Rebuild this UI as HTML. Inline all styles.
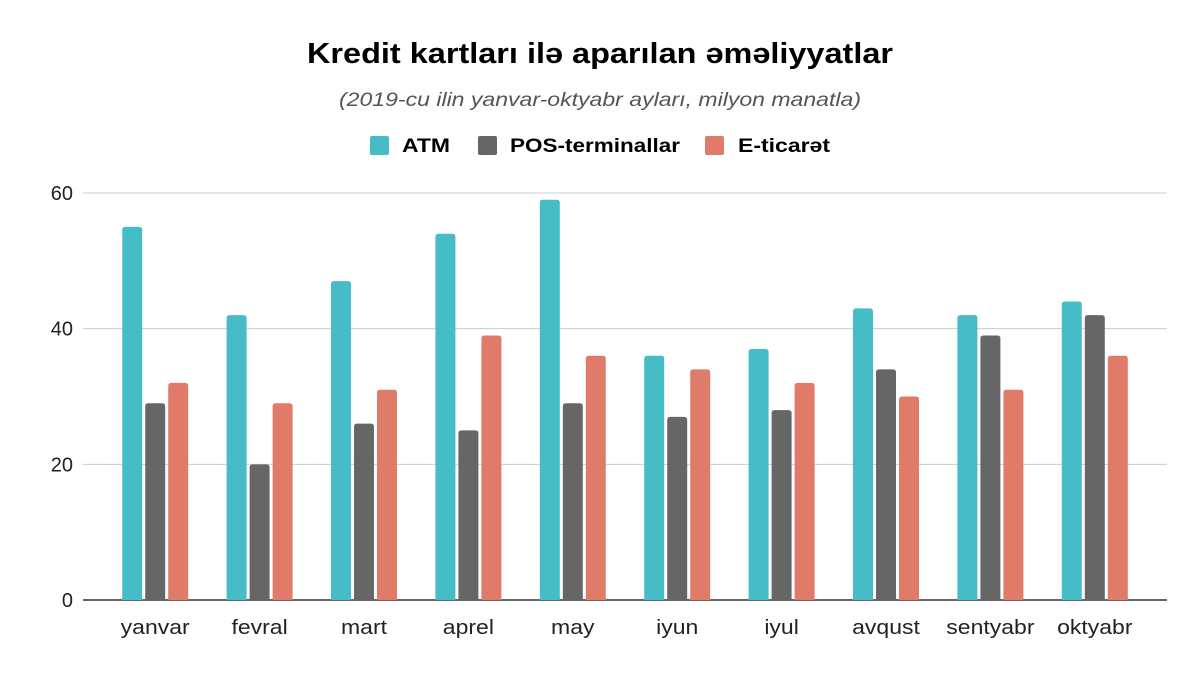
<!DOCTYPE html>
<html><head><meta charset="utf-8"><style>
body{margin:0;background:#fff;font-family:"Liberation Sans",sans-serif;}
</style></head><body>
<svg width="1200" height="671" xmlns="http://www.w3.org/2000/svg">
<rect width="1200" height="671" fill="#fff"/>
<text x="600" y="63" text-anchor="middle" font-size="29" font-weight="bold" fill="#000" textLength="586" lengthAdjust="spacingAndGlyphs">Kredit kartları ilə aparılan əməliyyatlar</text>
<text x="600" y="106" text-anchor="middle" font-size="19" font-style="italic" fill="#555" textLength="522" lengthAdjust="spacingAndGlyphs">(2019-cu ilin yanvar-oktyabr ayları, milyon manatla)</text>
<g>
<g><rect x="370" y="136" width="19" height="19" rx="2" fill="#46bdc6"/><text x="402" y="152" font-size="19" font-weight="bold" textLength="48" lengthAdjust="spacingAndGlyphs">ATM</text></g>
<g><rect x="478" y="136" width="19" height="19" rx="2" fill="#666666"/><text x="510" y="152" font-size="19" font-weight="bold" textLength="170" lengthAdjust="spacingAndGlyphs">POS-terminallar</text></g>
<g><rect x="705" y="136" width="19" height="19" rx="2" fill="#e07b6a"/><text x="738" y="152" font-size="19" font-weight="bold" textLength="92" lengthAdjust="spacingAndGlyphs">E-ticarət</text></g>
</g>
<g id="grid"></g><g id="bars"></g><g id="xlabels"></g>
</svg>
<script>
const categories=["yanvar","fevral","mart","aprel","may","iyun","iyul","avqust","sentyabr","oktyabr"];
const atm=[55,42,47,54,59,36,37,43,42,44];
const pos=[29,20,26,25,29,27,28,34,39,42];
const ecom=[32,29,31,39,36,34,32,30,31,36];
const yTicks=[0,20,40,60];
const NS="http://www.w3.org/2000/svg";
const y0=600,yTop=193,yMax=60,left=103,band=104.4;
const y=v=>y0-(y0-yTop)*v/yMax;
const xc=i=>left+band*(i+0.5);
function mk(t,a,p){const e=document.createElementNS(NS,t);for(const k in a)e.setAttribute(k,a[k]);p.appendChild(e);return e;}
const g=document.getElementById('grid');
yTicks.forEach(t=>{
 const l=mk('line',{x1:83,x2:1167,y1:y(t),y2:y(t),stroke:t===0?'#333':'#ccc','stroke-width':t===0?1.5:1},g);
 
 
 const tx=mk('text',{x:73,y:y(t)+7,'text-anchor':'end','font-size':20,fill:'#222'},g);
 tx.textContent=t;
 
 
});
const b=document.getElementById('bars');
const series=[[atm,'#46bdc6','atm'],[pos,'#666666','pos'],[ecom,'#e07b6a','ecommerce']];
const bw=20,gap=3;
categories.forEach((c,i)=>{
 series.forEach((s,j)=>{
  const v=s[0][i];const x=xc(i)+(j-1)*(bw+gap)-bw/2;
  const r=mk('path',{d:`M${x},${y0}V${y(v)+3}Q${x},${y(v)} ${x+3},${y(v)}H${x+bw-3}Q${x+bw},${y(v)} ${x+bw},${y(v)+3}V${y0}Z`,fill:s[1]},b);
  
  
 });
 const t=mk('text',{x:xc(i),y:634,'text-anchor':'middle','font-size':20,fill:'#222'},document.getElementById('xlabels'));
 t.textContent=c;
 
 
 const w=t.getComputedTextLength();
 t.setAttribute('textLength',w*1.15);
 t.setAttribute('lengthAdjust','spacingAndGlyphs');
});
</script>
</body></html>
